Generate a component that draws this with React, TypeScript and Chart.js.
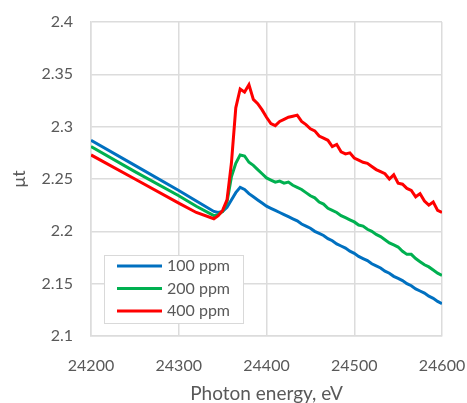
import React, { useEffect, useRef } from "react";
import { Chart, registerables } from "chart.js";

Chart.register(...registerables);

const energy = [
  24200, 24250, 24300, 24320, 24340, 24345, 24350, 24355, 24360, 24365, 24370,
  24375, 24380, 24385, 24390, 24395, 24400, 24405, 24410, 24415, 24420, 24425,
  24430, 24435, 24440, 24445, 24450, 24455, 24460, 24465, 24470, 24475, 24480,
  24485, 24490, 24495, 24500, 24505, 24510, 24515, 24520, 24525, 24530, 24535,
  24540, 24545, 24550, 24555, 24560, 24565, 24570, 24575, 24580, 24585, 24590,
  24595, 24600,
];

const ppm100 = [
  2.287, 2.263, 2.239, 2.229, 2.219, 2.218, 2.219, 2.223, 2.23, 2.237, 2.242,
  2.24, 2.236, 2.233, 2.23, 2.227, 2.224, 2.222, 2.22, 2.218, 2.216, 2.214,
  2.212, 2.21, 2.207, 2.205, 2.203, 2.2, 2.198, 2.196, 2.193, 2.191, 2.188,
  2.186, 2.184, 2.181, 2.179, 2.176, 2.174, 2.172, 2.169, 2.167, 2.165, 2.162,
  2.16, 2.157, 2.155, 2.153, 2.15, 2.148, 2.145, 2.143, 2.141, 2.138, 2.136,
  2.133, 2.131,
];

const ppm200 = [
  2.281, 2.257, 2.234, 2.224, 2.215, 2.216, 2.219, 2.228, 2.252, 2.265, 2.273,
  2.272, 2.266, 2.263, 2.259, 2.255, 2.251, 2.249, 2.247, 2.248, 2.246, 2.247,
  2.244, 2.242, 2.24, 2.237, 2.234, 2.232, 2.228, 2.226, 2.222, 2.22, 2.218,
  2.215, 2.213, 2.211, 2.209, 2.206, 2.205, 2.202, 2.2, 2.197, 2.195, 2.192,
  2.189, 2.187, 2.185, 2.181, 2.178, 2.178, 2.174, 2.171, 2.168, 2.166, 2.163,
  2.16, 2.158,
];

const ppm400 = [
  2.273, 2.25, 2.227, 2.218, 2.212, 2.215, 2.22, 2.23, 2.265, 2.318, 2.336,
  2.333, 2.34, 2.326, 2.322, 2.316, 2.309, 2.303, 2.301, 2.305, 2.307, 2.309,
  2.31, 2.311, 2.305, 2.302, 2.298, 2.296, 2.291, 2.289, 2.287, 2.281, 2.283,
  2.276, 2.274, 2.275, 2.27, 2.268, 2.266, 2.265, 2.262, 2.259, 2.257, 2.255,
  2.25, 2.254, 2.246, 2.245, 2.241, 2.239, 2.233, 2.236, 2.229, 2.225, 2.228,
  2.22, 2.218,
];

const seriesLabels = ["100 ppm", "200 ppm", "400 ppm"];
const seriesColors = ["#0070C0", "#00B050", "#FF0000"];
const seriesValues = [ppm100, ppm200, ppm400];

const FONT = "Lato, 'Open Sans', sans-serif";
const TEXT = "#595959";
const GRID = "#dcdcdc";

const insideLegend = {
  id: "insideLegend",
  afterDraw(chart: any) {
    const { ctx, chartArea } = chart;
    const x0 = chartArea.left + 13;
    const y0 = chartArea.bottom - 81;
    const w = 139;
    const h = 68;
    ctx.save();
    ctx.fillStyle = "#ffffff";
    ctx.fillRect(x0, y0, w, h);
    ctx.strokeStyle = "#d9d9d9";
    ctx.lineWidth = 1;
    ctx.strokeRect(x0 + 0.5, y0 + 0.5, w, h);
    ctx.font = `16px ${FONT}`;
    ctx.textBaseline = "middle";
    chart.data.datasets.forEach((ds: any, i: number) => {
      const cy = y0 + 11 + i * 22.5;
      ctx.strokeStyle = ds.borderColor;
      ctx.lineWidth = 3;
      ctx.beginPath();
      ctx.moveTo(x0 + 13, cy);
      ctx.lineTo(x0 + 58, cy);
      ctx.stroke();
      ctx.fillStyle = TEXT;
      ctx.fillText(ds.label, x0 + 63, cy);
    });
    ctx.restore();
  },
};

export default function App() {
  const ref = useRef<HTMLCanvasElement>(null);

  useEffect(() => {
    document.body.style.margin = "0";
    const canvas = ref.current!;
    const chart = new Chart(canvas, {
      type: "line",
      data: {
        datasets: seriesValues.map((vals, i) => ({
          label: seriesLabels[i],
          data: energy.map((e, j) => ({ x: e, y: vals[j] })),
          borderColor: seriesColors[i],
          backgroundColor: seriesColors[i],
          borderWidth: 3,
          pointRadius: 0,
          tension: 0,
          fill: false,
          order: 2 - i,
        })),
      },
      options: {
        animation: false,
        responsive: false,
        maintainAspectRatio: false,
        layout: { padding: { left: 0, right: 25, top: 22, bottom: 0 } },
        plugins: {
          legend: { display: false },
          tooltip: { enabled: false },
        },
        scales: {
          x: {
            type: "linear",
            min: 24200,
            max: 24600,
            ticks: {
              stepSize: 100,
              color: TEXT,
              font: { family: FONT, size: 16 },
              padding: 20,
              maxRotation: 0,
              callback: (v: any) => String(v),
            },
            grid: { color: GRID, lineWidth: 1.5, drawTicks: false },
            border: { color: GRID, width: 1.5 },
            title: {
              display: true,
              text: "Photon energy, eV",
              color: TEXT,
              font: { family: FONT, size: 19 },
              padding: { top: 0, bottom: -2 },
            },
            afterFit: (s: any) => {
              s.height = 67;
              s.paddingLeft = 0;
              s.paddingRight = 0;
            },
          },
          y: {
            min: 2.1,
            max: 2.4,
            ticks: {
              stepSize: 0.05,
              color: TEXT,
              font: { family: FONT, size: 16 },
              padding: 18,
              callback: (v: any) => String(Math.round(v * 100) / 100),
            },
            grid: { color: GRID, lineWidth: 1.5, drawTicks: false },
            border: { color: GRID, width: 1.5 },
            title: {
              display: true,
              text: "μt",
              color: TEXT,
              font: { family: FONT, size: 18 },
              padding: { top: 8, bottom: 0 },
            },
            afterFit: (s: any) => {
              s.width = 91;
              s.paddingTop = 0;
              s.paddingBottom = 0;
            },
          },
        },
      },
      plugins: [insideLegend],
    });
    return () => chart.destroy();
  }, []);

  return (
    <div style={{ width: 467, height: 403 }}>
      <canvas ref={ref} width={467} height={403} style={{ display: "block" }} />
    </div>
  );
}
